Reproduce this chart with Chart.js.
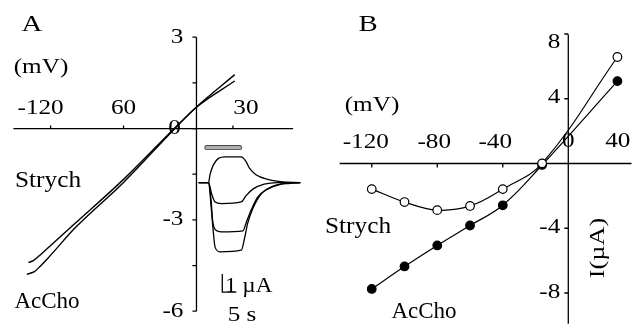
<!DOCTYPE html>
<html>
<head>
<meta charset="utf-8">
<script src="https://cdn.jsdelivr.net/npm/chart.js@4.4.0/dist/chart.umd.min.js"></script>
<style>
  html, body { margin: 0; padding: 0; background: #fff; }
</style>
</head>
<body>
<canvas id="iv" width="638" height="328"></canvas>
<script>
// panel A: ramp I-V curves (mV, uA)
const voltA_strych = [-138.2, -134.2, -127.4, -100, -60, -18.3, 0, 31.5];
const currA_strych = [-4.40, -4.34, -4.11, -3.12, -1.67, 0, 0.71, 1.77];
const voltA_accho = [-139.5, -133, -128.5, -122, -100, -60, -18.3, 0, 31.5];
const currA_accho = [-4.79, -4.69, -4.52, -4.25, -3.27, -1.77, -0.02, 0.70, 1.56];

// panel A inset: current traces (s, uA)
const timeT1 = [0, 3.5, 4.0, 5.2, 7.0, 9.3, 15.1, 16.8, 18.0, 20.3, 24.4, 29.0, 36];
const currT1 = [0, 0, 0.44, 0.98, 1.34, 1.42, 1.42, 1.16, 0.80, 0.44, 0.18, 0.05, 0];
const timeT2 = [0, 3.5, 4.6, 5.8, 8.1, 15.1, 16.8, 19.2, 23.2, 27.9, 36];
const currT2 = [0, 0, -0.63, -1.07, -1.16, -1.07, -0.72, -0.36, -0.09, 0, 0];
const timeT3 = [0, 3.5, 4.4, 4.9, 5.8, 8.1, 15.7, 16.8, 18.6, 20.9, 24.4, 29.0, 36];
const currT3 = [0, 0, -0.98, -2.05, -2.59, -2.73, -2.67, -2.23, -1.52, -0.80, -0.36, -0.09, 0];
const timeT4 = [0, 3.5, 4.4, 5.2, 5.8, 7.5, 15.1, 16.2, 17.4, 19.2, 22.1, 26.7, 32.5, 36];
const currT4 = [0, 0, -1.34, -2.76, -3.57, -3.83, -3.74, -3.12, -2.23, -1.43, -0.63, -0.18, -0.04, 0];
const drugTime = [2.9, 14.5];
const drugLevel = [1.94, 1.94];
const barTime = [8.36, 8.36, 13.36];
const barCurr = [-5.06, -6.06, -6.06];

// panel B: peak currents
const voltB = [-120, -100, -80, -60, -40, -16, 30];
const currB_strych = [-1.58, -2.38, -2.88, -2.62, -1.58, 0.01, 6.58];
const currB_accho = [-7.75, -6.36, -5.06, -3.83, -2.58, -0.09, 5.09];

// tick labels
const ticksA_x = [-120, -60, 0, 30];
const labelsA_x = ['-120', '60', '0', '30'];
const marksA_y = [3, 1.5, 0, -1.5, -3, -4.5, -6];
const ticksA_y = [3, -3, -6];
const labelsA_y = ['3', '-3', '-6'];
const ticksB_x = [-120, -80, -40, 0, 40];
const labelsB_x = ['-120', '-80', '-40', '0', '40'];
const ticksB_y = [8, 4, -4, -8];
const labelsB_y = ['8', '4', '-4', '-8'];

const pts = (xs, ys) => xs.map((x, i) => ({ x: x, y: ys[i] }));
const serif = '"Liberation Serif", "Times New Roman", serif';

function text(ctx, s, x, y, size, sx, align, rot) {
  ctx.save();
  ctx.translate(x, y);
  if (rot) ctx.rotate(rot);
  ctx.scale(sx, 1);
  ctx.font = size + 'px ' + serif;
  ctx.textAlign = align || 'center';
  ctx.textBaseline = 'middle';
  ctx.fillStyle = '#000';
  ctx.fillText(s, 0, 0);
  ctx.restore();
}

function axisX(ctx, xs, ys, from, to, marks, len) {
  const y0 = ys.getPixelForValue(0);
  ctx.beginPath();
  ctx.moveTo(xs.getPixelForValue(from), y0);
  ctx.lineTo(xs.getPixelForValue(to), y0);
  marks.forEach(v => {
    const x = xs.getPixelForValue(v);
    ctx.moveTo(x, y0);
    ctx.lineTo(x, y0 + len);
  });
  ctx.stroke();
}

function axisY(ctx, xs, ys, from, to, marks, len) {
  const x0 = xs.getPixelForValue(0);
  ctx.beginPath();
  ctx.moveTo(x0, ys.getPixelForValue(from));
  ctx.lineTo(x0, ys.getPixelForValue(to));
  marks.forEach(v => {
    const y = ys.getPixelForValue(v);
    ctx.moveTo(x0, y);
    ctx.lineTo(x0 - len, y);
  });
  ctx.stroke();
}

const axesPlugin = {
  id: 'axes',
  beforeDatasetsDraw(chart) {
    const ctx = chart.ctx, s = chart.scales;
    ctx.save();
    ctx.strokeStyle = '#000';
    ctx.lineWidth = 1.3;
    axisX(ctx, s.xA, s.yA, -150.6, 79.5, [-120, -60, 30], -3);
    axisY(ctx, s.xA, s.yA, -6, 3, marksA_y, 4);
    axisX(ctx, s.xB, s.yB, -139.6, 38.6, [-120, -80, -40], 4);
    axisY(ctx, s.xB, s.yB, -9.9, 7.97, [8, 4, -4, -8], 4);
    ctx.restore();
  },
  afterDatasetsDraw(chart) {
    const ctx = chart.ctx, s = chart.scales;
    // panel A tick labels
    const dxA = [-10, 0, -22, 13], dyA = [-20, -20, 0, -20];
    ticksA_x.forEach((v, i) => {
      text(ctx, labelsA_x[i], s.xA.getPixelForValue(v) + dxA[i], s.yA.getPixelForValue(0) + dyA[i], 21, 1.2);
    });
    ticksA_y.forEach((v, i) => {
      text(ctx, labelsA_y[i], s.xA.getPixelForValue(0) - 13, s.yA.getPixelForValue(v), 21, 1.2, 'right');
    });
    // panel B tick labels
    const dxB = [-6, -3, -7.5, 0, -16], dyB = [-21.5, -21.5, -21.5, -22.5, -22.5];
    ticksB_x.forEach((v, i) => {
      text(ctx, labelsB_x[i], s.xB.getPixelForValue(v) + dxB[i], s.yB.getPixelForValue(0) + dyB[i], 21, 1.2);
    });
    const dyBy = [8.5, -1, -1, -1];
    ticksB_y.forEach((v, i) => {
      text(ctx, labelsB_y[i], s.xB.getPixelForValue(0) - 8, s.yB.getPixelForValue(v) + dyBy[i], 21, 1.2, 'right');
    });
    // annotations
    text(ctx, 'A', 32, 25, 24, 1.2);
    text(ctx, 'B', 368, 25, 24, 1.2);
    text(ctx, '(mV)', 41, 67, 21, 1.2);
    text(ctx, '(mV)', 372, 105, 21, 1.2);
    text(ctx, 'Strych', 48, 181, 23, 1.1);
    text(ctx, 'AcCho', 47, 302, 23, 1.0);
    text(ctx, 'Strych', 358, 227, 23, 1.1);
    text(ctx, 'AcCho', 424, 312, 23, 1.0);
    text(ctx, '1 µA', 225, 286, 21, 1.1, 'left');
    text(ctx, '5 s', 242, 315, 21, 1.2);
    text(ctx, 'I(µA)', 598, 248, 21, 1.25, 'center', -Math.PI / 2);
  }
};

const line = (data, xId, yId, w, extra) => Object.assign({
  data: data, xAxisID: xId, yAxisID: yId,
  borderColor: '#000', borderWidth: w, pointRadius: 0,
  cubicInterpolationMode: 'monotone', fill: false
}, extra || {});

new Chart(document.getElementById('iv'), {
  type: 'line',
  data: {
    datasets: [
      line(pts(voltA_strych, currA_strych), 'xA', 'yA', 1.4),
      line(pts(voltA_accho, currA_accho), 'xA', 'yA', 1.4),
      line(pts(timeT1, currT1), 'xI', 'yI', 1.3),
      line(pts(timeT2, currT2), 'xI', 'yI', 1.3),
      line(pts(timeT3, currT3), 'xI', 'yI', 1.3),
      line(pts(timeT4, currT4), 'xI', 'yI', 1.3),
      line(pts(drugTime, drugLevel), 'xI', 'yI', 3.2, { borderColor: '#b0b0b0', borderCapStyle: 'round', order: -1 }),
      line(pts(drugTime, drugLevel), 'xI', 'yI', 5, { borderColor: '#444', borderCapStyle: 'round' }),
      line(pts(barTime, barCurr), 'xI', 'yI', 1.3, { cubicInterpolationMode: 'default', tension: 0 }),
      line(pts(voltB, currB_strych), 'xB', 'yB', 1.2, {
        cubicInterpolationMode: 'default', tension: 0.4,
        pointRadius: 4.3, pointBorderWidth: 1.2, pointBackgroundColor: '#fff', pointBorderColor: '#000', order: -2
      }),
      line(pts(voltB, currB_accho), 'xB', 'yB', 1.2, {
        cubicInterpolationMode: 'default', tension: 0.4,
        pointRadius: 4.3, pointBorderWidth: 1.2, pointBackgroundColor: '#000', pointBorderColor: '#000'
      })
    ]
  },
  options: {
    responsive: false,
    animation: false,
    layout: { padding: 0 },
    plugins: { legend: { display: false }, tooltip: { enabled: false } },
    scales: {
      xA: { type: 'linear', axis: 'x', min: -157.1, max: 358.7, display: false },
      yA: { type: 'linear', axis: 'y', min: -6.371, max: 4.041, display: false },
      xI: { type: 'linear', axis: 'x', min: -68.5, max: 153.8, display: false },
      yI: { type: 'linear', axis: 'y', min: -7.74, max: 9.80, display: false },
      xB: { type: 'linear', axis: 'x', min: -343.6, max: 39.2, display: false },
      yB: { type: 'linear', axis: 'y', min: -9.821, max: 9.761, display: false }
    }
  },
  plugins: [axesPlugin]
});
</script>
</body>
</html>
